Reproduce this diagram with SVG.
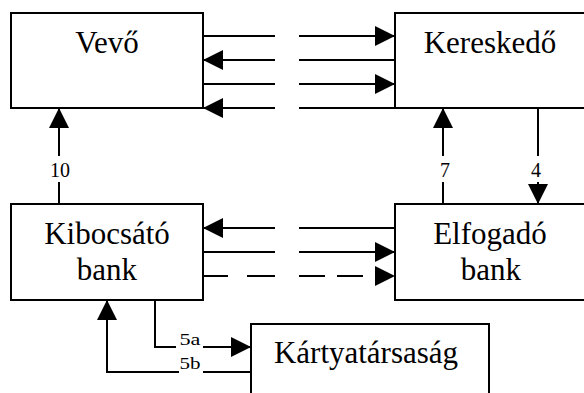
<svg xmlns="http://www.w3.org/2000/svg" width="584" height="393" viewBox="0 0 584 393">
<style>
text{font-family:'Liberation Serif','Times New Roman',Times,Tinos,serif;fill:#000;text-anchor:middle}
.box{fill:#fff;stroke:#000;stroke-width:2}
.t{font-size:31px}
.l{font-size:20px}
.s{font-size:16px}
.c{fill:none;stroke:#000;stroke-width:2;marker-end:url(#ah)}
</style>
<defs>
<marker id="ah" markerUnits="userSpaceOnUse" markerWidth="20" markerHeight="20" refX="20" refY="10" orient="auto" viewBox="0 0 20 20">
<path d="M0,0 L20,10 L0,20 z" fill="#000" stroke="none"/>
</marker>
</defs>
<rect width="584" height="393" fill="#fff"/>
<g id="vevo">
<rect class="box" x="11" y="13" width="192" height="95"/>
<text class="t" x="107" y="53" font-family="Liberation Serif">Vevő</text>
</g>
<g id="kereskedo">
<rect class="box" x="395" y="13" width="220" height="95"/>
<text class="t" x="490" y="53">Kereskedő</text>
</g>
<g id="kibocsato">
<rect class="box" x="11" y="204" width="192" height="96"/>
<text class="t" x="107" y="244">Kibocsátó</text>
<text class="t" x="107" y="280">bank</text>
</g>
<g id="elfogado">
<rect class="box" x="395" y="204" width="220" height="96"/>
<text class="t" x="490" y="244">Elfogadó</text>
<text class="t" x="491" y="280">bank</text>
</g>
<g id="kartyatarsasag">
<rect class="box" x="251" y="324" width="238" height="100"/>
<text class="t" x="366" y="363">Kártyatársaság</text>
</g>
<g id="connectors">
<path class="c" d="M203,36 H275 M299,36 H395"/>
<path class="c" d="M395,60 H299 M275,60 H203"/>
<path class="c" d="M203,84 H275 M299,84 H395"/>
<path class="c" d="M395,108 H299 M275,108 H203"/>
<path class="c" d="M395,228 H299 M275,228 H203"/>
<path class="c" d="M203,252 H275 M299,252 H395"/>
<path fill="none" stroke="#000" stroke-width="2" d="M204,276 H228 M247,276 H275 M299,276 H325 M337,276 H363"/>
<path fill="none" stroke="none" marker-end="url(#ah)" d="M374,276 H395"/>
<path class="c" d="M59,204 V182 M59,156 V108"/>
<path class="c" d="M443,204 V182 M443,156 V108"/>
<path class="c" d="M538,108 V156 M538,182 V204"/>
<path class="c" d="M155,300 V347 H176 M203,347 H251"/>
<path class="c" d="M251,372 H203 M179,372 H107 V300"/>
<text class="l" x="60" y="177">10</text>
<text class="l" x="445" y="177">7</text>
<text class="l" x="536" y="177">4</text>
<text class="s" x="190" y="345" textLength="21" lengthAdjust="spacingAndGlyphs">5a</text>
<text class="s" x="190" y="369" textLength="21" lengthAdjust="spacingAndGlyphs">5b</text>
</g>
</svg>
